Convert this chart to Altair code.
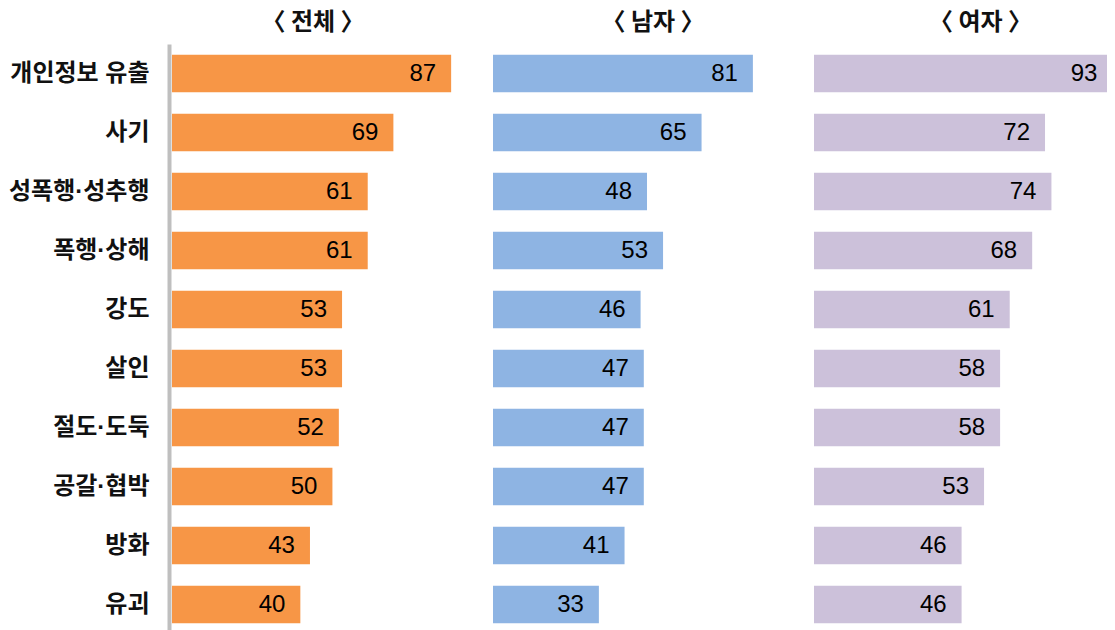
import altair as alt
import pandas as pd

categories = ["개인정보 유출", "사기", "성폭행·성추행", "폭행·상해", "강도", "살인", "절도·도둑", "공갈·협박", "방화", "유괴"]
total_vals = [87, 69, 61, 61, 53, 53, 52, 50, 43, 40]
male_vals = [81, 65, 48, 53, 46, 47, 47, 47, 41, 33]
female_vals = [93, 72, 74, 68, 61, 58, 58, 53, 46, 46]
panel_titles = ["〈 전체 〉", "〈 남자 〉", "〈 여자 〉"]
panel_colors = ["#F79646", "#8EB4E3", "#CCC1DA"]
title_shift = [-9, 10, 20]
panel_widths = [300, 300, 293]

LABEL_FONT = "Liberation Sans, Noto Sans CJK KR"
TITLE_FONT = "Noto Sans CJK KR"
NUM_FONT = "Liberation Sans Narrow, Liberation Sans, Arial, sans-serif"
PX_PER_UNIT = 300 / 93.5


def panel(vals, title, color, shift, width, show_axis):
    df = pd.DataFrame({"cat": categories, "val": vals})
    y_axis = (
        alt.Axis(
            title=None, ticks=False, grid=False, domain=True,
            domainColor="#BFBFBF", domainWidth=4, offset=3,
            labelFont=LABEL_FONT, labelFontSize=24, labelFontWeight="bold",
            labelColor="#111111", labelPadding=20,
            minExtent=161, maxExtent=161,
        )
        if show_axis else None
    )
    base = alt.Chart(df).encode(
        y=alt.Y("cat:N", sort=categories, axis=y_axis,
                scale=alt.Scale(paddingInner=0.365, paddingOuter=0.1825)),
        x=alt.X("val:Q", axis=None,
                scale=alt.Scale(domain=[0, width / PX_PER_UNIT], nice=False)),
    )
    bars = base.mark_bar(color=color, clip=True)
    text = base.mark_text(align="right", baseline="middle", dx=-15,
                          font=NUM_FONT, fontSize=24, color="#000000").encode(
        text="val:Q")
    return (bars + text).properties(
        width=width, height=590,
        title=alt.TitleParams(title, font=TITLE_FONT, fontSize=24,
                              fontWeight="bold", color="#111111", offset=10,
                              anchor="middle", dx=shift, dy=1),
    )


chart = alt.hconcat(
    panel(total_vals, panel_titles[0], panel_colors[0], title_shift[0], panel_widths[0], True),
    panel(male_vals, panel_titles[1], panel_colors[1], title_shift[1], panel_widths[1], False),
    panel(female_vals, panel_titles[2], panel_colors[2], title_shift[2], panel_widths[2], False),
    spacing=21,
).properties(
    padding={"left": 0, "top": 3, "right": 0, "bottom": 0}
).configure_view(stroke=None)

chart.save("out.html", embed_options={"renderer": "svg", "actions": False})
